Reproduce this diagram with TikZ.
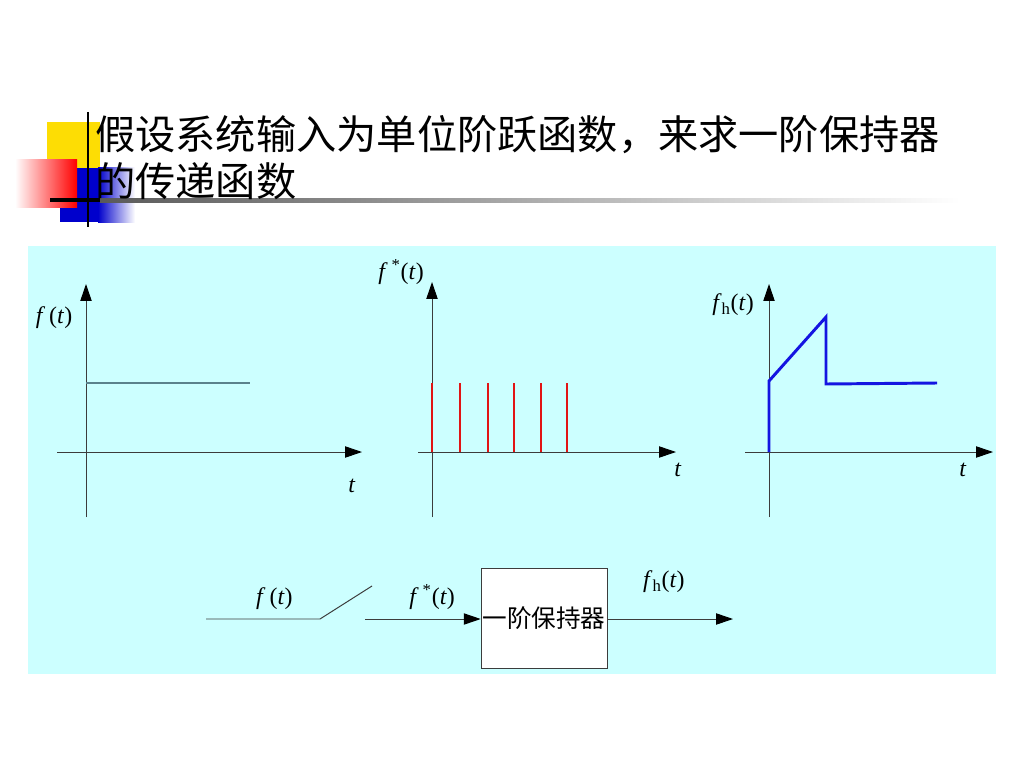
\documentclass[tikz,border=0pt]{standalone}
\usepackage{fontspec}
\setmainfont{Liberation Serif}
\newfontfamily\cjk{Noto Sans CJK SC}
\usetikzlibrary{arrows.meta,positioning}
\definecolor{panelbg}{RGB}{204,255,255}
\definecolor{axisgray}{RGB}{60,60,60}
\definecolor{stepcol}{RGB}{90,130,140}
\definecolor{impred}{RGB}{225,20,20}
\definecolor{holdblue}{RGB}{20,20,225}

\begin{document}
\begin{tikzpicture}[x=0.025cm, y=-0.025cm, >={Triangle[length=12pt, width=8pt, color=black]},
	every node/.style={font=\fontsize{17}{20}\selectfont, text=black},
	axis/.style={axisgray, line width=0.7pt},
	impulse/.style={impred, line width=1.8pt},
	holdline/.style={holdblue, line width=2.1pt, line join=miter},
	sig/.style={axisgray, line width=0.7pt}]
	\useasboundingbox (0,0) rectangle (1024,768);
	% title decoration
	\fill[yellow!80!orange] (47,122) rectangle (100,175);
	\fill[blue!80!black] (60,168) rectangle (98,222);
	\shade[left color=blue!80!black, right color=white] (98,168) rectangle (135,222);
	\shade[left color=white, right color=red] (15,160) rectangle (77,207);
	\shade[left color=black!65, right color=white] (100,198) rectangle (960,202);
	\fill[black] (50,198) rectangle (100,202);
	\draw[black, line width=2pt] (88,112) -- (88,227);
	\node[anchor=west, align=left, font=\cjk\fontsize{28.6}{33.5}\selectfont, inner sep=0pt] (title) at (95,158)
		{假设系统输入为单位阶跃函数，来求一阶保持器\\的传递函数};
	% panel
	\fill[panelbg] (28,246) rectangle (996,674);
	\foreach \ox/\xa/\xb/\yt in {86/57/362/284, 432/418/676/282, 769/745/993/284} {
		\draw[axis, ->] (\ox,517) -- (\ox,\yt);
		\draw[axis, ->] (\xa,452) -- (\xb,452);
	}
	\draw[stepcol, line width=1pt] (86,383) -- (250,383);
	\foreach \x in {432,460,488,514,541,567} {
		\draw[impulse] (\x,452) -- (\x,383);
	}
	\draw[holdline] (769,452) -- (769,381) -- (826,317) -- (826,384) -- (937,383);
	\node (fa) at (54,318) {\textit{f}\,(\textit{t})};
	\node (ta) at (352,486) {\textit{t}};
	\node (fb) at (401,272) {\textit{f}\,\textsuperscript{*}(\textit{t})};
	\node (tb) at (678,470) {\textit{t}};
	\node (fc) at (733,305) {\textit{f}\textsubscript{h}(\textit{t})};
	\node (tc) at (963,470) {\textit{t}};
	% block diagram
	\node[draw=axisgray, fill=white, minimum width=3.15cm, minimum height=2.5cm, inner sep=0pt,
		font=\cjk\fontsize{17.5}{20}\selectfont] (zoh) at (544,618) {一阶保持器};
	\coordinate (in) at (206,619);
	\coordinate (sw) at (320,619);
	\coordinate (swend) at (372,586);
	\coordinate (sin) at (365,619);
	\coordinate (out) at (733,619);
	\draw[sig] (in) -- node[above=3pt, pos=0.6] (lf) {\textit{f}\,(\textit{t})} (sw) -- (swend);
	\draw[sig, ->] (sin) -- node[above=3pt, pos=0.58] (lfs) {\textit{f}\,\textsuperscript{*}(\textit{t})} (zoh.west |- sin);
	\draw[sig, ->] (zoh.east |- out) -- node[above=15pt, pos=0.45] (lfh) {\textit{f}\textsubscript{h}(\textit{t})} (out);
\end{tikzpicture}
\end{document}
